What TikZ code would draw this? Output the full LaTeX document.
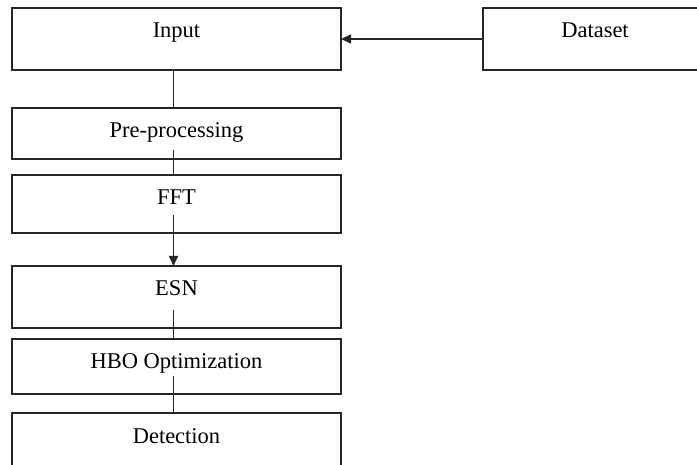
\documentclass[tikz,border=0pt]{standalone}
\usepackage{fontspec}
\setmainfont{Liberation Serif}
\usetikzlibrary{positioning,arrows.meta}
\begin{document}
\begin{tikzpicture}[x=1pt,y=1pt,
    stage/.style={draw=black!85, line width=1.3pt, minimum width=329pt,
      inner sep=0pt, outer sep=0pt, text height=30pt,
      font=\fontsize{22.5}{27}\selectfont},
    link/.style={draw=black!85, line width=1.5pt},
    tip/.style={-{Triangle[length=10pt,width=9pt]}}]
  \useasboundingbox (0,0) rectangle (697,-465);
  \node[stage, text depth=32pt, anchor=north west] (input) at (12,-8) {Input};
  \node[stage, text depth=32pt, minimum width=224pt, anchor=north west] (dataset) at (483,-8) {Dataset};
  \node[stage, text depth=21pt, below=38pt of input] (pre) {Pre-processing};
  \node[stage, text depth=28pt, below=16pt of pre] (fft) {FFT};
  \node[stage, text depth=32pt, below=33pt of fft] (esn) {ESN};
  \node[stage, text depth=25pt, below=11pt of esn] (hbo) {HBO Optimization};
  \node[stage, text depth=39pt, below=19pt of hbo] (det) {Detection};
  \begin{scope}[link]
    \draw[tip] (dataset) -- (input);
    \draw ([xshift=-3pt]input.south) -- ([xshift=-3pt]pre.north);
    \draw ([xshift=-3pt,yshift=9pt]pre.south) -- ([xshift=-3pt]fft.north);
    \draw[tip] ([xshift=-3pt,yshift=18pt]fft.south) -- ([xshift=-3pt]esn.north);
    \draw ([xshift=-3pt,yshift=18pt]esn.south) -- ([xshift=-3pt]hbo.north);
    \draw ([xshift=-3pt,yshift=18pt]hbo.south) -- ([xshift=-3pt]det.north);
  \end{scope}
\end{tikzpicture}
\end{document}
